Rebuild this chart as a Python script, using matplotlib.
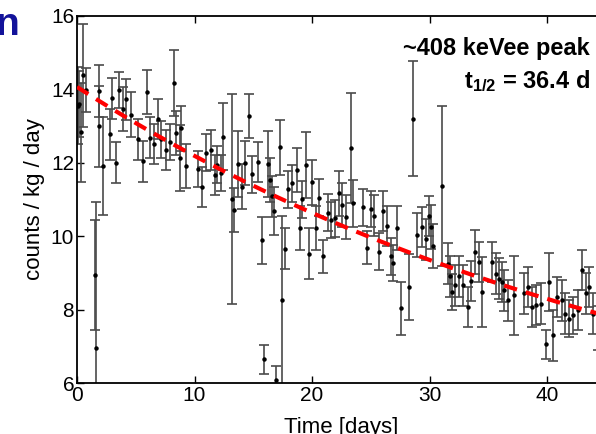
import numpy as np
import matplotlib
matplotlib.use("Agg")
import matplotlib.pyplot as plt
from matplotlib import font_manager as fm

# ---- data ----
time_days = [0.05, 0.20, 0.35, 0.50, 0.80, 1.50, 1.60, 1.87, 1.91, 2.24, 2.81, 2.95, 3.30, 3.57, 3.90,
             4.20, 4.62, 5.19, 5.60, 5.95, 6.24, 6.52, 6.89, 7.17, 7.60, 7.88, 8.25, 8.45, 8.73, 8.88,
             9.24, 10.30, 10.66, 10.95, 11.43, 11.71, 11.91, 12.23, 12.42, 13.20, 13.40, 13.73, 14.00,
             14.30, 14.67, 14.92, 15.44, 15.77, 15.94, 16.28, 16.43, 16.57, 16.77, 16.94, 17.28, 17.42,
             17.71, 17.99, 18.28, 18.70, 18.98, 19.12, 19.49, 19.77, 19.97, 20.31, 20.62, 20.97, 21.39,
             21.62, 21.96, 22.33, 22.52, 22.89, 23.32, 23.52, 24.31, 24.65, 24.99, 25.30, 25.67, 26.01,
             26.35, 26.69, 26.92, 27.26, 27.55, 28.28, 28.57, 28.97, 29.40, 29.70, 29.98, 30.12, 30.32,
             31.10, 31.54, 31.77, 31.91, 32.20, 32.54, 32.88, 33.25, 33.53, 33.90, 34.24, 34.47, 35.30,
             35.66, 35.94, 36.16, 36.35, 36.64, 37.21, 38.05, 38.40, 38.76, 39.10, 39.50, 39.88, 40.18,
             40.47, 40.82, 41.25, 41.53, 41.90, 42.18, 42.67, 42.95, 43.32, 43.60, 43.95, 44.30]
rate = [13.55, 13.60, 12.83, 14.38, 13.97, 8.93, 6.94, 13.95, 12.99, 11.90, 12.77, 13.75, 12.00, 13.98, 13.47,
        13.72, 13.31, 12.63, 12.04, 13.93, 12.68, 12.50, 13.19, 12.63, 12.34, 12.56, 14.16, 12.80, 12.12, 12.93,
        11.90, 11.83, 11.34, 12.27, 12.35, 11.67, 11.94, 11.72, 12.71, 11.00, 10.71, 11.96, 11.35,
        12.00, 13.27, 11.68, 12.02, 9.88, 6.64, 11.96, 11.53, 11.08, 10.69, 6.07, 12.42, 8.25,
        9.66, 11.27, 11.44, 11.80, 10.21, 11.00, 11.94, 9.52, 11.46, 10.21, 11.05, 9.45, 10.64,
        10.44, 10.48, 11.16, 10.85, 10.53, 12.40, 10.89, 10.78, 9.68, 10.74, 10.56, 9.58, 10.69,
        10.27, 9.45, 9.27, 10.23, 8.03, 8.62, 13.20, 10.02, 10.25, 9.91, 10.54, 10.25, 9.73,
        11.36, 9.25, 8.90, 8.48, 8.66, 8.90, 8.66, 8.07, 8.78, 9.57, 9.30, 8.48, 9.30,
        8.98, 8.84, 8.75, 8.52, 8.25, 8.39, 8.44, 8.62, 8.07, 8.12, 8.16, 7.05, 8.75,
        7.30, 8.34, 8.25, 7.89, 7.75, 7.84, 7.98, 9.07, 8.44, 8.62, 7.89, 7.50]
rate_err = [1.05, 0.90, 1.35, 1.40, 0.60, 1.50, 4.00, 0.70, 1.10, 1.33, 0.70, 0.55, 0.55, 0.50, 0.60,
            0.55, 0.60, 0.56, 0.56, 0.60, 0.55, 0.55, 0.55, 0.50, 0.55, 0.50, 0.90, 0.60, 0.90, 0.60,
            0.60, 0.50, 0.55, 0.50, 0.55, 0.55, 0.50, 0.50, 0.90, 2.86, 0.60, 0.90, 0.60,
            0.60, 0.60, 0.50, 0.55, 0.65, 0.40, 0.90, 0.60, 0.55, 0.65, 0.40, 0.75, 2.30,
            0.56, 0.50, 0.50, 0.60, 0.60, 0.50, 0.90, 0.70, 0.60, 0.60, 0.50, 0.45, 0.50,
            0.50, 0.50, 0.60, 0.60, 0.60, 1.50, 0.65, 0.50, 0.45, 0.50, 0.55, 0.50, 0.55,
            0.55, 0.50, 0.50, 0.60, 0.72, 0.90, 1.57, 0.60, 0.55, 0.55, 0.55, 0.60, 0.60,
            2.18, 0.55, 0.55, 0.50, 0.55, 0.55, 0.55, 0.55, 0.55, 0.60, 0.55, 0.95, 0.55,
            0.55, 0.55, 0.55, 0.55, 0.55, 1.08, 0.55, 0.55, 0.55, 0.55, 0.55, 0.40, 0.80,
            0.70, 0.55, 0.55, 0.55, 0.50, 0.50, 0.55, 0.55, 0.55, 0.55, 0.55, 0.60]

# fit: A * 2^(-t / t_half) + C
fit_amplitude = 10.82
fit_constant = 3.24
half_life = 36.4

x_ticks = [0, 10, 20, 30, 40]
y_ticks = [6, 8, 10, 12, 14, 16]

# ---- fonts ----
names = {f.name for f in fm.fontManager.ttflist}
narrow = 'Liberation Sans Narrow' if 'Liberation Sans Narrow' in names else 'Liberation Sans'
plt.rcParams['font.family'] = ['Liberation Sans', 'DejaVu Sans']
plt.rcParams['mathtext.fontset'] = 'custom'
plt.rcParams['mathtext.rm'] = narrow + ':bold'
plt.rcParams['mathtext.it'] = narrow + ':bold'
plt.rcParams['mathtext.bf'] = narrow + ':bold'

fig = plt.figure(figsize=(5.96, 4.34), dpi=100)
ax = fig.add_axes([0.1292, 0.1175, 0.8872, 0.8463])

ax.errorbar(time_days, rate, yerr=rate_err, fmt='o', ms=2.2, mfc='black', mec='black',
            ecolor='#4a4a4a', elinewidth=1.2, capsize=3.5, capthick=1.2, zorder=2)

tt = np.linspace(0, 45, 300)
ax.plot(tt, fit_amplitude * 2 ** (-tt / half_life) + fit_constant, color='#ff0000',
        lw=3, dashes=(3.2, 2.2), zorder=3)

ax.set_xlim(0, 45)
ax.set_ylim(6, 16)
ax.set_xticks(x_ticks)
ax.set_yticks(y_ticks)
ax.tick_params(direction='in', top=True, right=True, length=5, width=1, labelsize=15, pad=2)
for s in ax.spines.values():
    s.set_linewidth(1.3)

ax.set_xlabel('Time [days]', fontsize=16, labelpad=9)
ax.set_ylabel('counts / kg / day', fontsize=16, labelpad=4)

fig.text(590 / 596, 1 - 55 / 434, '~408 keVee peak', ha='right', va='baseline',
         fontsize=17, fontweight='bold', family=[narrow, 'DejaVu Sans'])
fig.text(590 / 596, 1 - 88 / 434, r'$\mathrm{t_{1/2}}$ = 36.4 d', ha='right', va='baseline',
         fontsize=17, fontweight='bold', family=[narrow, 'DejaVu Sans'])

fig.text(19 / 596, 1 - 35 / 434, 'n', ha='right', va='baseline', fontsize=28,
         fontweight='bold', color='#13139a')

fig.savefig('out.png', dpi=100)
